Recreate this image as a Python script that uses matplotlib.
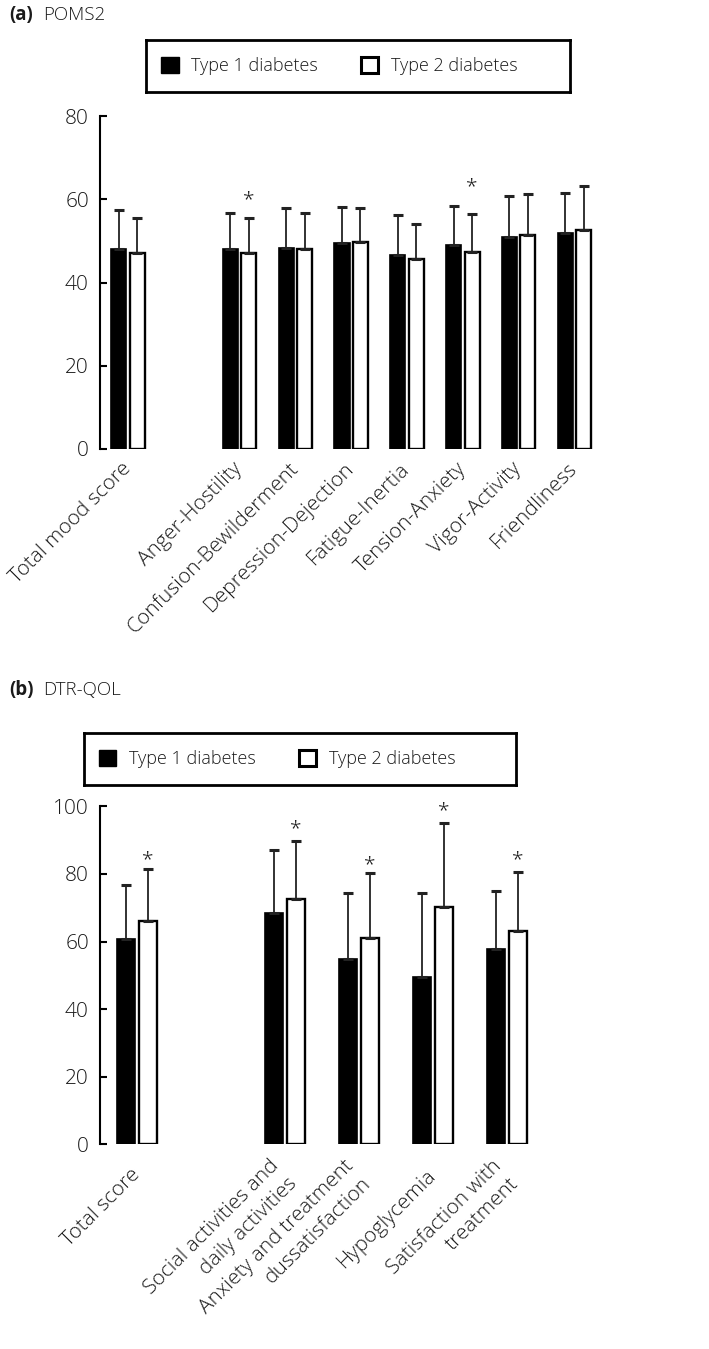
import matplotlib
matplotlib.use('Agg')
import matplotlib.pyplot as plt
from matplotlib.patches import Patch
import numpy as np

plt.rcParams['font.family'] = ['Open Sans', 'DejaVu Sans']
plt.rcParams['font.size'] = 15
plt.rcParams['font.weight'] = 'light'
plt.rcParams['text.color'] = '#1a1a1a'

W, H = 709, 1349

# (a) POMS2
poms_labels = ['Total mood score', 'Anger-Hostility', 'Confusion-Bewilderment',
               'Depression-Dejection', 'Fatigue-Inertia', 'Tension-Anxiety',
               'Vigor-Activity', 'Friendliness']
poms_pos = [0, 2, 3, 4, 5, 6, 7, 8]
poms_t1 = [48.0, 48.0, 48.3, 49.6, 46.6, 48.9, 50.9, 51.9]
poms_t1_sd = [9.3, 8.6, 9.5, 8.6, 9.5, 9.4, 9.8, 9.6]
poms_t2 = [47.1, 47.1, 48.0, 49.8, 45.6, 47.4, 51.4, 52.6]
poms_t2_sd = [8.3, 8.5, 8.6, 8.1, 8.5, 9.0, 9.9, 10.5]
poms_sig = [1, 5]
poms_sig_y = [61.5, 64.6]

# (b) DTR-QOL
qol_labels = ['Total score', 'Social activities and\ndaily activities',
              'Anxiety and treatment\ndussatisfaction', 'Hypoglycemia',
              'Satisfaction with\ntreatment']
qol_pos = [0, 2, 3, 4, 5]
qol_t1 = [60.7, 68.5, 54.9, 49.6, 57.9]
qol_t1_sd = [16.0, 18.6, 19.4, 24.7, 17.1]
qol_t2 = [66.1, 72.5, 61.1, 70.3, 63.1]
qol_t2_sd = [15.4, 17.3, 19.1, 24.8, 17.6]
qol_sig = [0, 1, 2, 3, 4]
qol_sig_y = [86.4, 95.5, 84.9, 100.7, 86.3]

legend_labels = ['Type 1 diabetes', 'Type 2 diabetes']


def box(left, top, right, bottom):
    return [left / W, 1 - bottom / H, (right - left) / W, (bottom - top) / H]


def panel(ax, pos, t1, sd1, t2, sd2, labels, ymax, sig, sig_y, xmax, lpad,
          w, off):
    pos = np.array(pos, dtype=float)
    ekw = dict(ecolor='#222222', elinewidth=1.3, capsize=3.4, capthick=2.2)
    ax.bar(pos - off, t1, w, color='black', edgecolor='black', linewidth=1.2,
           yerr=[np.zeros(len(t1)), sd1], error_kw=ekw)
    ax.bar(pos + off, t2, w, color='white', edgecolor='black', linewidth=1.7,
           yerr=[np.zeros(len(t2)), sd2], error_kw=ekw)
    for i, y in zip(sig, sig_y):
        ax.annotate('*', xy=(pos[i] + off, y), xytext=(0, -9),
                    textcoords='offset points', ha='center', va='baseline',
                    annotation_clip=False)
    ax.set_xlim(-0.5, xmax)
    ax.set_ylim(0, ymax)
    for s in ['top', 'right', 'bottom']:
        ax.spines[s].set_visible(False)
    ax.spines['left'].set_linewidth(1.5)
    ax.tick_params(axis='y', direction='in', length=5, width=1.5, pad=8,
                   labelcolor='#1a1a1a')
    ax.set_xticks(pos)
    ax.set_xticklabels(labels, rotation=45, ha='right', va='center',
                       rotation_mode='anchor', multialignment='right',
                       linespacing=1.3)
    ax.tick_params(axis='x', length=0, pad=lpad, labelcolor='#1a1a1a')


def legend_box(rect):
    lax = fig.add_axes(rect)
    lax.set_xticks([])
    lax.set_yticks([])
    for s in lax.spines.values():
        s.set_linewidth(2)
    handles = [Patch(facecolor='black', edgecolor='black', linewidth=1),
               Patch(facecolor='white', edgecolor='black', linewidth=2.2)]
    lax.legend(handles, legend_labels, ncol=2, loc='center left',
               frameon=False, borderaxespad=0, borderpad=0.85,
               handlelength=0.95, handleheight=0.95, handletextpad=0.7,
               columnspacing=2.4, fontsize=13)


fig = plt.figure(figsize=(W / 100, H / 100), dpi=100)

ax1 = fig.add_axes(box(100, 116, 709, 449))
panel(ax1, poms_pos, poms_t1, poms_t1_sd, poms_t2, poms_t2_sd, poms_labels,
      80, poms_sig, poms_sig_y, 10.41, 12, 0.27, 0.165)

ax2 = fig.add_axes(box(100, 806.4, 709, 1144.3))
panel(ax2, qol_pos, qol_t1, qol_t1_sd, qol_t2, qol_t2_sd, qol_labels,
      100, qol_sig, qol_sig_y, 7.73, 20, 0.25, 0.15)

legend_box(box(146, 40, 570, 92))
legend_box(box(84, 733, 516, 785))

fig.text(9 / W, 1 - 15 / H, '(a)', weight='bold', va='center', fontsize=13.5)
fig.text(43 / W, 1 - 15 / H, 'POMS2', va='center', fontsize=13.5)
fig.text(9 / W, 1 - 690 / H, '(b)', weight='bold', va='center', fontsize=13.5)
fig.text(43 / W, 1 - 690 / H, 'DTR-QOL', va='center', fontsize=13.5)

fig.savefig('out.png', dpi=100)
